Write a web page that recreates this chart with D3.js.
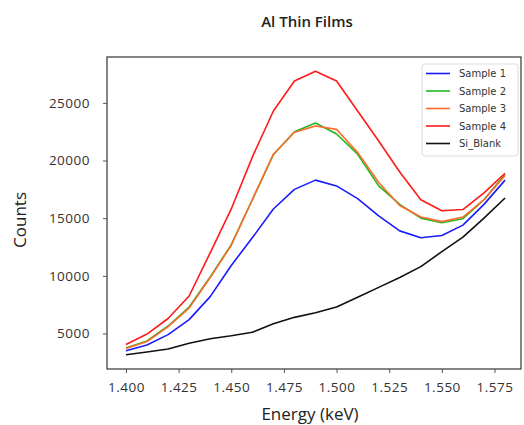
<!DOCTYPE html>
<html>
<head>
<meta charset="utf-8">
<script src="https://cdn.jsdelivr.net/npm/d3@7"></script>
<style>
  body { margin: 0; background: #fff; }
  text { font-family: "Open Sans", "DejaVu Sans", sans-serif; }
</style>
</head>
<body>
<div id="chart"></div>
<script>
// energy values (keV)
var energy = [1.40, 1.41, 1.42, 1.43, 1.44, 1.45, 1.46, 1.47, 1.48, 1.49,
              1.50, 1.51, 1.52, 1.53, 1.54, 1.55, 1.56, 1.57, 1.58];

var sample1 = [3500, 4000, 4900, 6200, 8200, 10900, 13300, 15800, 17500, 18300,
               17800, 16700, 15200, 13900, 13300, 13500, 14400, 16200, 18300];
var sample2 = [3750, 4350, 5650, 7300, 9900, 12700, 16600, 20500, 22500, 23250,
               22300, 20550, 17800, 16200, 15000, 14600, 14950, 16600, 18800];
var sample3 = [3700, 4300, 5600, 7200, 9850, 12650, 16600, 20550, 22450, 23000,
               22700, 20700, 18100, 16100, 15100, 14700, 15100, 16600, 18700];
var sample4 = [4050, 4950, 6300, 8250, 12000, 15800, 20300, 24300, 26900, 27750,
               26900, 24300, 21700, 19000, 16600, 15650, 15750, 17200, 18900];
var siBlank = [3150, 3400, 3650, 4150, 4550, 4800, 5100, 5850, 6400, 6800,
               7300, 8150, 9000, 9850, 10800, 12100, 13350, 15000, 16750];

var seriesNames = ["Sample 1", "Sample 2", "Sample 3", "Sample 4", "Si_Blank"];
var seriesColors = ["#1a1aff", "#22b822", "#ff6a2a", "#ff1a1a", "#111111"];
var xTicks = [1.400, 1.425, 1.450, 1.475, 1.500, 1.525, 1.550, 1.575];
var yTicks = [5000, 10000, 15000, 20000, 25000];

var W = 524, H = 425;
var margin = {left: 107, top: 57, right: 521, bottom: 369};

var series = [sample1, sample2, sample3, sample4, siBlank].map(function(vals, i) {
  return {
    name: seriesNames[i],
    color: seriesColors[i],
    values: vals.map(function(v, j) { return {x: energy[j], y: v}; })
  };
});

var svg = d3.select('#chart')
  .append('svg')
  .attr('width', W)
  .attr('height', H);

// scales, padded a little like the original
var x = d3.scaleLinear().domain([1.391, 1.589]).range([margin.left, 524]);
var y = d3.scaleLinear().domain([1920, 28980]).range([margin.bottom, margin.top]);

// x axis
var xAxis = svg.append('g')
  .attr('transform', 'translate(0,' + margin.bottom + ')')
  .call(d3.axisBottom(x).tickValues(xTicks).tickFormat(d3.format('.3f')).tickSize(4).tickSizeOuter(0));
xAxis.select('.domain').remove();
xAxis.selectAll('line').attr('stroke', '#555');
xAxis.selectAll('text')
  .attr('fill', '#333')
  .attr('dy', '1.2em')
  .style('font-size', '13.5px')
  .style('letter-spacing', '0.5px');

// y axis
var yAxis = svg.append('g')
  .attr('transform', 'translate(' + margin.left + ',0)')
  .call(d3.axisLeft(y).tickValues(yTicks).tickSize(4).tickSizeOuter(0).tickFormat(d3.format('d')));
yAxis.select('.domain').remove();
yAxis.selectAll('line').attr('stroke', '#555');
yAxis.selectAll('text')
  .attr('fill', '#333')
  .attr('x', -17)
  .style('font-size', '13.5px')
  .style('letter-spacing', '0.5px');

// frame
svg.append('rect')
  .attr('x', margin.left)
  .attr('y', margin.top)
  .attr('width', margin.right - margin.left)
  .attr('height', margin.bottom - margin.top)
  .attr('fill', 'none')
  .attr('stroke', '#444')
  .attr('stroke-width', 1.3);

// lines
var line = d3.line()
  .x(function(d) { return x(d.x); })
  .y(function(d) { return y(d.y); });

svg.append('g')
  .selectAll('path')
  .data(series)
  .enter().append('path')
    .attr('d', function(d) { return line(d.values); })
    .attr('fill', 'none')
    .attr('stroke', function(d) { return d.color; })
    .attr('stroke-width', 1.6)
    .attr('stroke-linejoin', 'round');

// legend
var legend = svg.append('g').attr('transform', 'translate(422,64)');
legend.append('rect')
  .attr('width', 96)
  .attr('height', 92)
  .attr('rx', 3)
  .attr('fill', '#fff')
  .attr('stroke', '#ddd');

var entry = legend.selectAll('g.entry')
  .data(series)
  .enter().append('g')
  .attr('class', 'entry')
  .attr('transform', function(d, i) { return 'translate(0,' + (9.5 + i * 17.5) + ')'; });
entry.append('line')
  .attr('x1', 4).attr('x2', 28)
  .attr('stroke', function(d) { return d.color; })
  .attr('stroke-width', 1.6);
entry.append('text')
  .attr('x', 37)
  .attr('dy', '0.35em')
  .attr('fill', '#333')
  .style('font-family', '"DejaVu Sans", sans-serif')
  .style('font-size', '10px')
  .text(function(d) { return d.name; });

// title and axis labels
svg.append('text')
  .attr('x', 307)
  .attr('y', 27)
  .attr('text-anchor', 'middle')
  .attr('fill', '#222')
  .style('font-size', '15px')
  .style('font-weight', 600)
  .text('Al Thin Films');

svg.append('text')
  .attr('x', 310)
  .attr('y', 420)
  .attr('text-anchor', 'middle')
  .attr('fill', '#222')
  .style('font-size', '17px')
  .text('Energy (keV)');

svg.append('text')
  .attr('transform', 'translate(26,220) rotate(-90)')
  .attr('text-anchor', 'middle')
  .attr('fill', '#222')
  .style('font-size', '17px')
  .text('Counts');
</script>
</body>
</html>
